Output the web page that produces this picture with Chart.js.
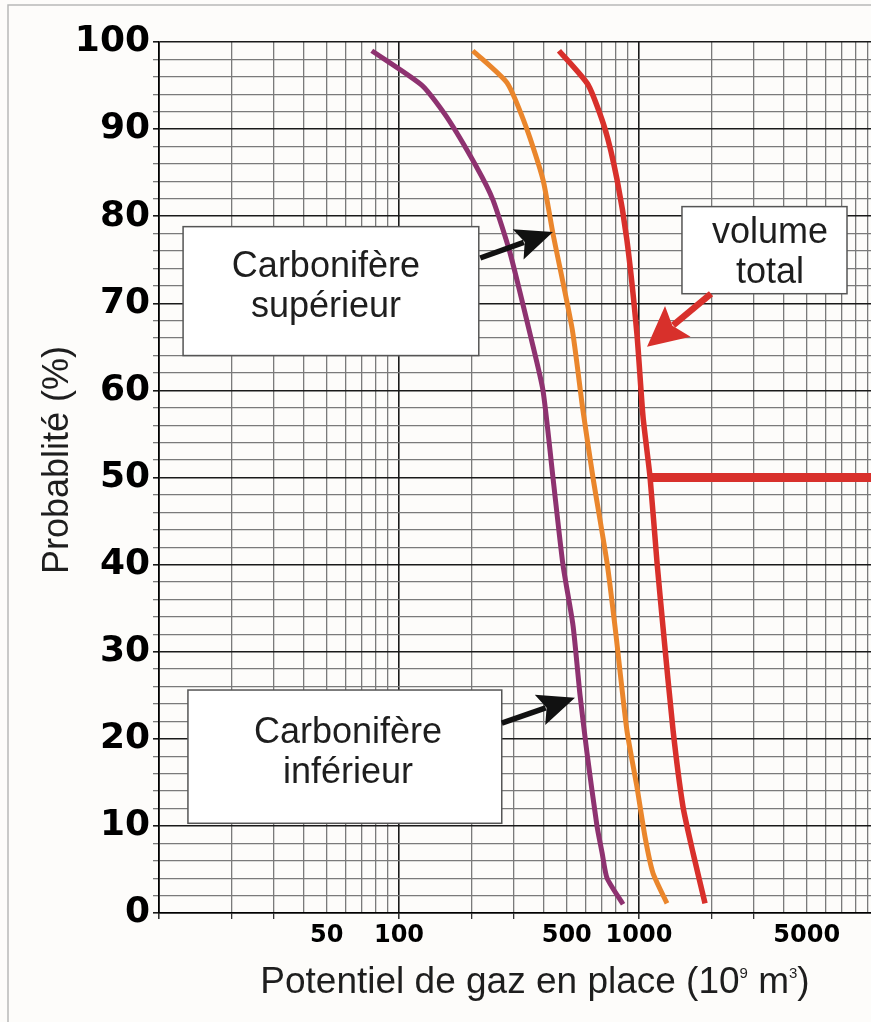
<!DOCTYPE html>
<html><head><meta charset="utf-8">
<script src="https://cdn.jsdelivr.net/npm/chart.js@4/dist/chart.umd.min.js"></script>
<style>html,body{margin:0;padding:0;background:#fdfcfa;}canvas{display:block;}</style>
</head><body>
<canvas id="c" width="871" height="1022"></canvas>
<script>
// ---- Data ----
const probInferieur = [99, 95, 91.4, 85.6, 81.9, 75.8, 66, 60, 50, 40, 33, 25, 18.4, 10, 6.9, 4, 1];
const gazInferieur  = [77, 125, 158, 211, 246, 290, 355, 398, 438, 482, 531, 568, 607, 668, 702, 736, 858];

const probSuperieur = [99, 95.3, 90, 84.2, 78, 67, 57.7, 50, 40.2, 32.8, 21, 14.5, 8.7, 4.6, 1.1];
const gazSuperieur  = [203, 282, 341, 398, 438, 527, 584, 643, 736, 795, 890, 980, 1060, 1143, 1308];

const probTotal = [99, 95.1, 90, 84.2, 77.3, 66.5, 57, 50, 40.2, 32.8, 21, 12.2, 6.9, 1.1];
const gazTotal  = [464, 613, 722, 810, 890, 980, 1039, 1112, 1189, 1259, 1386, 1525, 1679, 1884];

const probMedian = [50, 50];
const gazMedian  = [1112, 10000];

const xTickLabels = [50, 100, 500, 1000, 5000];
const yTickLabels = [0, 10, 20, 30, 40, 50, 60, 70, 80, 90, 100];

const xTitle = ['Potentiel de gaz en place (10', '9', ' m', '3', ')'];
const yTitle = 'Probablité (%)';

// annotations in data coordinates (gas, probability)
const notes = [
  {lines: ['Carbonifère', 'supérieur'], box: [12.6, 215, 78.8, 64.0], textX: 49.6, baselines: [73.0, 68.4],
   arrow: {from: [218, 75.2], to: [438, 78.2], color: '#111'}},
  {lines: ['volume', 'total'], box: [1510, 7356, 81.1, 71.1], textX: 3515, baselines: [76.9, 72.3],
   arrow: {from: [1995, 71.1], to: [1080, 65.0], color: '#d8302b'}},
  {lines: ['Carbonifère', 'inférieur'], box: [13.2, 268, 25.6, 10.3], textX: 61.3, baselines: [19.5, 14.9],
   arrow: {from: [268, 21.8], to: [541, 24.7], color: '#111'}}
];

// ---- helpers ----
const pts = (xs, ys) => xs.map((x, i) => ({x, y: ys[i]}));
const gridX = [];
for (let e = 1; e <= 3; e++) for (let s = 1; s <= 9; s++) gridX.push(s * Math.pow(10, e));
const sig = v => Math.round(v / Math.pow(10, Math.floor(Math.log10(v) + 1e-9)));

function arrow(c, x1, y1, x2, y2, color, lw, hl, hw) {
  const a = Math.atan2(y2 - y1, x2 - x1), ca = Math.cos(a), sa = Math.sin(a);
  const bx = x2 - hl * ca, by = y2 - hl * sa;
  c.strokeStyle = color; c.lineWidth = lw; c.lineCap = 'butt';
  c.beginPath(); c.moveTo(x1, y1); c.lineTo(bx + 6 * ca, by + 6 * sa); c.stroke();
  c.fillStyle = color; c.beginPath();
  c.moveTo(x2, y2);
  c.lineTo(bx + hw / 2 * sa, by - hw / 2 * ca);
  c.lineTo(bx + 7 * ca, by + 7 * sa);
  c.lineTo(bx - hw / 2 * sa, by + hw / 2 * ca);
  c.closePath(); c.fill();
}

const deco = {
  id: 'deco',
  beforeDraw(chart) {
    const c = chart.ctx; c.save();
    c.fillStyle = '#fdfcfa'; c.fillRect(0, 0, chart.width, chart.height);
    c.strokeStyle = '#b8b8b8'; c.lineWidth = 1.5;
    c.beginPath(); c.moveTo(8, chart.height); c.lineTo(8, 5); c.lineTo(chart.width, 5); c.stroke();
    c.restore();
  },
  afterDatasetsDraw(chart) {
    const c = chart.ctx, xs = chart.scales.x, ys = chart.scales.y;
    const X = v => xs.getPixelForValue(v), Y = v => ys.getPixelForValue(v);
    c.save();
    notes.forEach(n => {
      const x0 = X(n.box[0]), x1 = X(n.box[1]), y0 = Y(n.box[2]), y1 = Y(n.box[3]);
      c.fillStyle = '#ffffff'; c.fillRect(x0, y0, x1 - x0, y1 - y0);
      c.strokeStyle = '#555'; c.lineWidth = 1.5; c.strokeRect(x0, y0, x1 - x0, y1 - y0);
      c.fillStyle = '#1e1e1e'; c.font = '36px "Liberation Sans", Arial, sans-serif';
      c.textAlign = 'center'; c.textBaseline = 'alphabetic';
      n.lines.forEach((t, i) => c.fillText(t, X(n.textX), Y(n.baselines[i])));
      const a = n.arrow;
      const red = a.color !== '#111';
      arrow(c, X(a.from[0]), Y(a.from[1]), X(a.to[0]), Y(a.to[1]), a.color, red ? 6.5 : 5.5, red ? 40 : 37, red ? 40 : 32);
    });
    // axis titles
    c.fillStyle = '#1e1e1e';
    c.save();
    c.translate(58, 460); c.rotate(-Math.PI / 2);
    c.font = '36px "Liberation Sans", Arial, sans-serif';
    c.textAlign = 'center'; c.textBaseline = 'middle';
    c.fillText(yTitle, 0, 0);
    c.restore();
    const mainF = '37px "Liberation Sans", Arial, sans-serif', supF = '15px "Liberation Sans", Arial, sans-serif';
    const fonts = [mainF, supF, mainF, supF, mainF];
    let w = 0; const ws = xTitle.map((t, i) => { c.font = fonts[i]; const m = c.measureText(t).width; w += m; return m; });
    let x = 535 - w / 2; const base = 993;
    c.textAlign = 'left'; c.textBaseline = 'alphabetic';
    xTitle.forEach((t, i) => { c.font = fonts[i]; c.fillText(t, x, fonts[i] === supF ? base - 15 : base); x += ws[i]; });
    c.restore();
  }
};

new Chart(document.getElementById('c'), {
  type: 'scatter',
  data: {
    datasets: [
      {label: 'Carbonifère inférieur', data: pts(gazInferieur, probInferieur), showLine: true, borderColor: '#8e3270', borderWidth: 5, pointRadius: 0, tension: 0.2, borderJoinStyle: 'round'},
      {label: 'Carbonifère supérieur', data: pts(gazSuperieur, probSuperieur), showLine: true, borderColor: '#ea862c', borderWidth: 5, pointRadius: 0, tension: 0.2, borderJoinStyle: 'round'},
      {label: 'volume total', data: pts(gazTotal, probTotal), showLine: true, borderColor: '#d8302b', borderWidth: 5.5, pointRadius: 0, tension: 0.2, borderJoinStyle: 'round'},
      {label: 'médiane', data: pts(gazMedian, probMedian), showLine: true, borderColor: '#d8302b', borderWidth: 9, pointRadius: 0}
    ]
  },
  options: {
    responsive: false, animation: false, devicePixelRatio: 1,
    layout: {padding: {top: 42, left: 0, right: 0, bottom: 0}},
    plugins: {legend: {display: false}, tooltip: {enabled: false}},
    scales: {
      x: {
        type: 'logarithmic', min: 10, max: 9260, position: 'bottom',
        afterBuildTicks: s => { s.ticks = gridX.filter(v => v <= 9260).map(v => ({value: v})); },
        afterFit: s => { s.height = 109; },
        ticks: {autoSkip: false, maxRotation: 0, minRotation: 0, padding: 2, color: '#000',
          font: {family: '"DejaVu Sans", sans-serif', size: 24, weight: 'bold'},
          callback: v => xTickLabels.includes(v) ? String(v) : ''},
        grid: {
          color: ctx => sig(ctx.tick.value) === 1 ? '#1a1a1a' : '#7a7a7a',
          lineWidth: ctx => sig(ctx.tick.value) === 1 ? 1.6 : 1.3,
          tickLength: 6,
          tickColor: ctx => [1, 2, 3].includes(sig(ctx.tick.value)) ? '#333' : 'rgba(0,0,0,0)'
        },
        border: {color: '#000', width: 1.6}
      },
      y: {
        type: 'linear', min: 0, max: 100,
        afterFit: s => { s.width = 159; },
        ticks: {stepSize: 2, autoSkip: false, padding: 3, color: '#000',
          font: {family: '"DejaVu Sans", sans-serif', size: 36, weight: 'bold'},
          callback: v => yTickLabels.includes(v) ? String(v) : ''},
        grid: {
          color: ctx => ctx.tick.value % 10 === 0 ? '#1a1a1a' : '#7a7a7a',
          lineWidth: ctx => ctx.tick.value % 10 === 0 ? 1.6 : 1.3,
          tickLength: 6
        },
        border: {color: '#000', width: 1.6}
      }
    }
  },
  plugins: [deco]
});
</script>
</body></html>
